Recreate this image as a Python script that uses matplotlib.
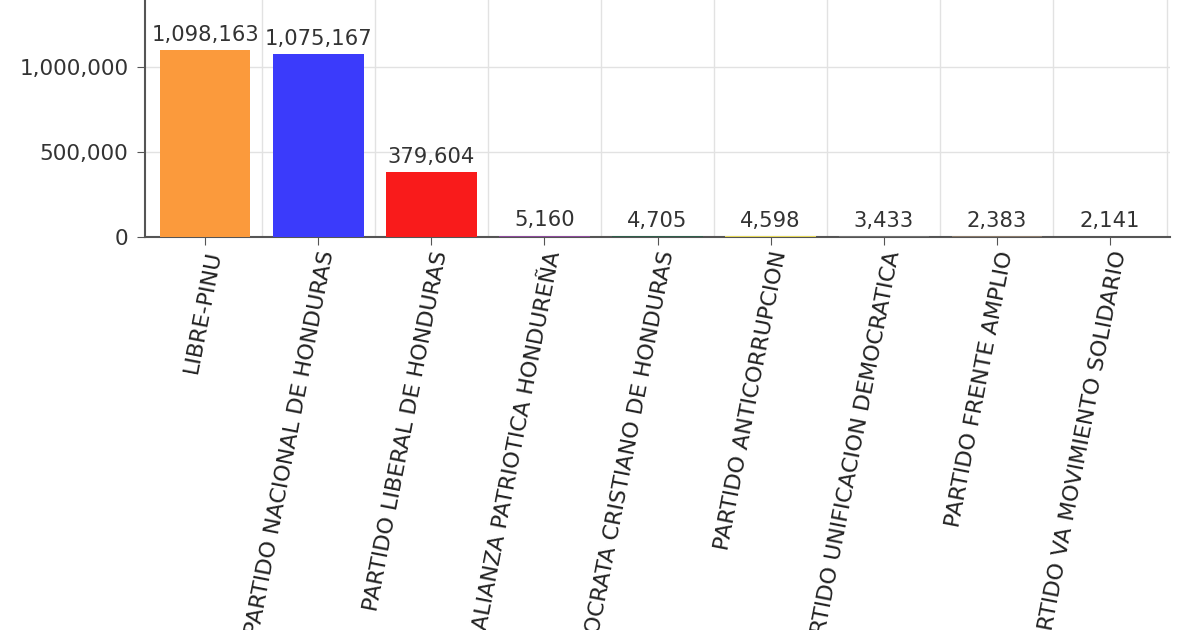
import matplotlib
matplotlib.use("Agg")
import matplotlib.pyplot as plt
from matplotlib.ticker import FuncFormatter

parties = [
    "LIBRE-PINU",
    "PARTIDO NACIONAL DE HONDURAS",
    "PARTIDO LIBERAL DE HONDURAS",
    "PARTIDO ALIANZA PATRIOTICA HONDUREÑA",
    "PARTIDO DEMOCRATA CRISTIANO DE HONDURAS",
    "PARTIDO ANTICORRUPCION",
    "PARTIDO UNIFICACION DEMOCRATICA",
    "PARTIDO FRENTE AMPLIO",
    "PARTIDO VA MOVIMIENTO SOLIDARIO",
]
votes = [1098163, 1075167, 379604, 5160, 4705, 4598, 3433, 2383, 2141]
colors = ["#FB9A3C", "#3B3BFB", "#F91B1B", "#8E4A9C", "#2F5E4A",
          "#E5D85A", "#6F6F6F", "#8A7A6A", "#5A5A7A"]
yticks = [0, 500000, 1000000]

plt.rcParams['font.family'] = ['DejaVu Sans']

fig = plt.figure(figsize=(12, 6.3), dpi=100)
ax = fig.add_axes([0.121, 0.624, 0.854, 0.376])

x = list(range(len(parties)))
ax.bar(x, votes, width=0.8, color=colors, zorder=3)

for xi, v in zip(x, votes):
    ax.annotate(f"{v:,}", (xi, v), xytext=(0, 4), textcoords="offset points",
                ha="center", va="bottom", fontsize=15.2, color="#333333", zorder=4)

ax.set_xlim(-0.53, len(parties) - 0.47)
ax.set_ylim(0, 1394000)
ax.set_yticks(yticks)
ax.yaxis.set_major_formatter(FuncFormatter(lambda v, p: f"{int(v):,}"))
ax.tick_params(axis="y", labelsize=15.5, labelcolor="#333333", length=6,
               color="#555555", pad=6)

ax.set_xticks(x)
ax.set_xticklabels(parties, rotation=79, ha="right", rotation_mode="anchor",
                   fontsize=16, color="#222222")
ax.tick_params(axis="x", length=6, color="#555555", pad=3)

# grid: horizontal at y ticks, vertical at category boundaries
for yv in yticks[1:]:
    ax.axhline(yv, color="#e2e2e2", lw=1, zorder=0)
for b in range(len(parties)):
    ax.axvline(b + 0.5, color="#e2e2e2", lw=1, zorder=0)

for s in ["top", "right"]:
    ax.spines[s].set_visible(False)
ax.spines["left"].set_color("#555555")
ax.spines["bottom"].set_color("#555555")
ax.spines["left"].set_linewidth(1.5)
ax.spines["bottom"].set_linewidth(1.5)

fig.savefig("out.png", dpi=100)
